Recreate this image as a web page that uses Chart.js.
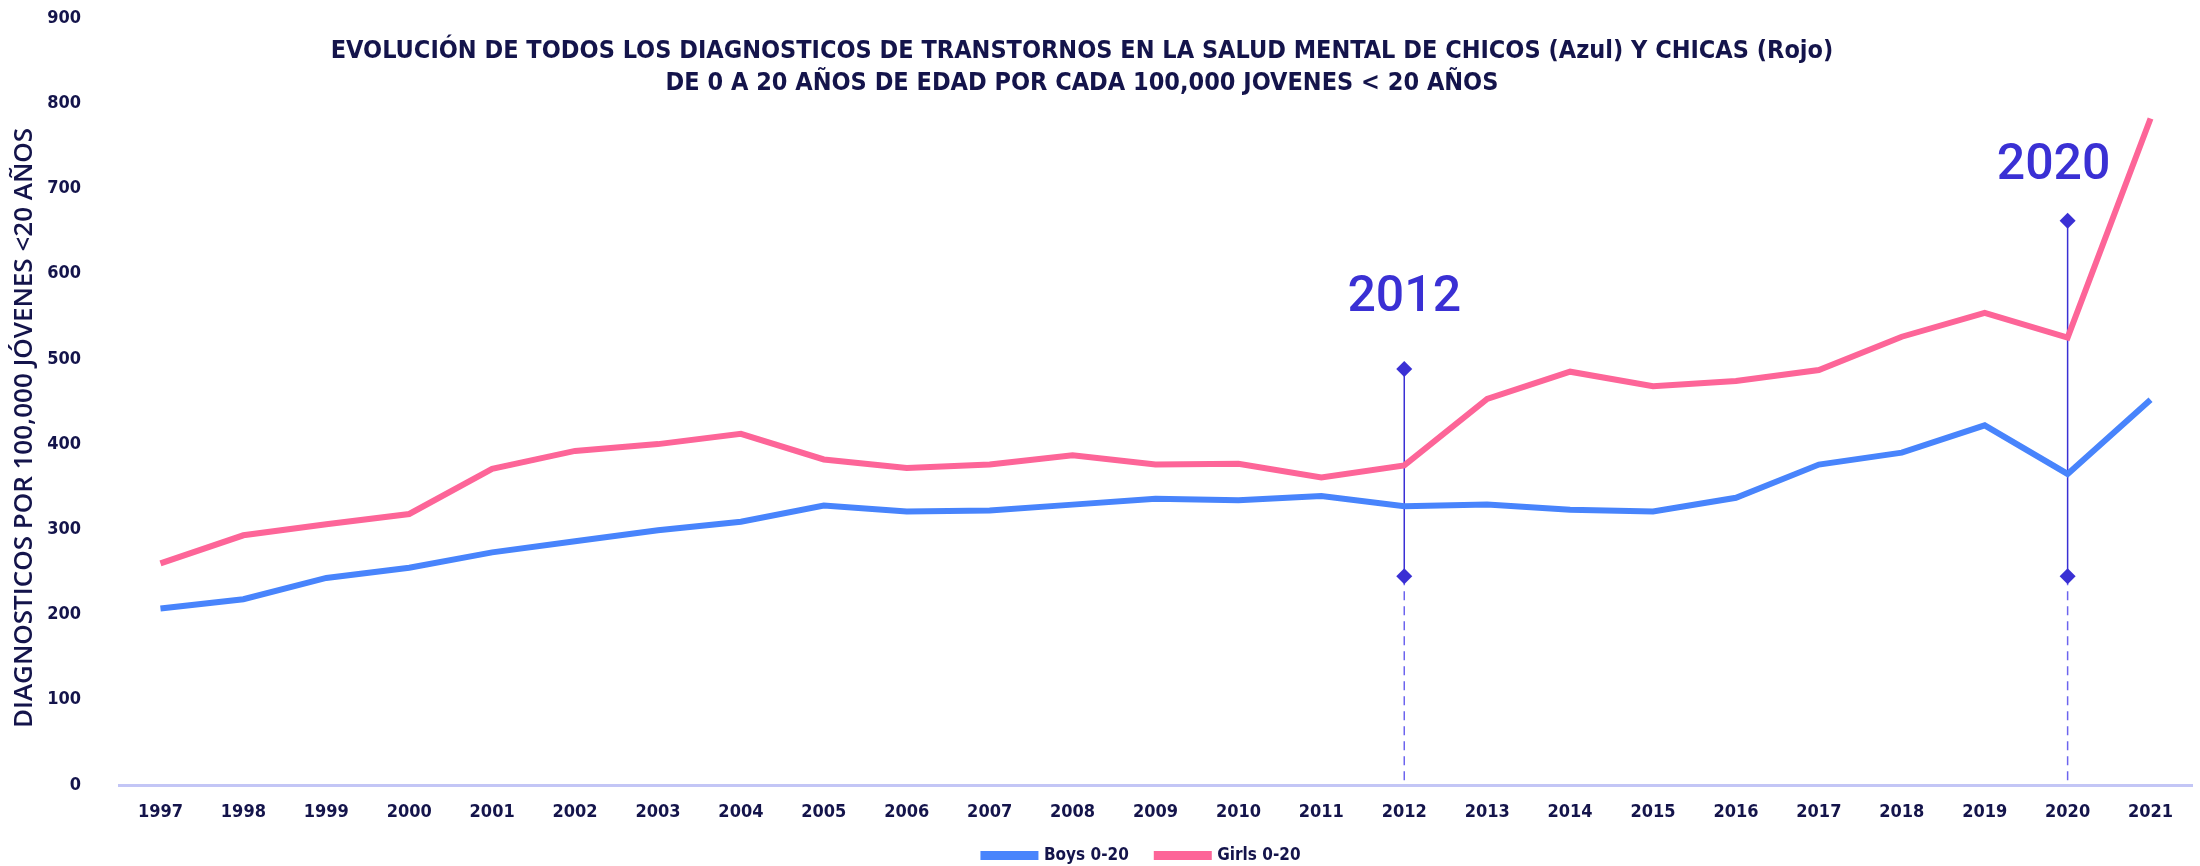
<html>
    <head>
        <title>Diagnosticos salud mental</title>
        <script src="https://cdn.jsdelivr.net/npm/chart.js"></script>
        <style>
            html, body {
                margin: 0;
                padding: 0;
                background: white;
            }
            #wrap {
                width: 2200px;
                height: 866px;
            }
        </style>
    </head>
    <body>
        <div id="wrap"><canvas id="chart"></canvas></div>
        <script>
            const years = ['1997','1998','1999','2000','2001','2002','2003','2004','2005','2006','2007','2008','2009',
                           '2010','2011','2012','2013','2014','2015','2016','2017','2018','2019','2020','2021'];
            const boys = [207, 218, 243, 255, 273, 286, 299, 309, 328, 321, 322, 329, 336,
                          334, 339, 327, 329, 323, 321, 337, 376, 390, 422, 365, 452];
            const girls = [260, 293, 306, 318, 371, 392, 400, 412, 382, 372, 376, 387, 376,
                           377, 361, 375, 453, 485, 468, 474, 487, 526, 554, 525, 782];
            const yTicks = [0, 100, 200, 300, 400, 500, 600, 700, 800, 900];
            const titleLines = ['EVOLUCIÓN DE TODOS LOS DIAGNOSTICOS DE TRANSTORNOS EN LA SALUD MENTAL DE CHICOS (Azul) Y CHICAS (Rojo)',
                                'DE 0 A 20 AÑOS DE EDAD POR CADA 100,000 JOVENES < 20 AÑOS'];
            const yTitle = 'DIAGNOSTICOS POR 100,000 JÓVENES <20 AÑOS';
            const markerYears = ['2012', '2020'];
            const markerTop = [488, 662];
            const markerBottom = [245, 245];
            const markerLabelY = [571, 726];

            const navy = '#14144b';
            const violet = '#3a30d4';
            const narrow = '"DejaVu Sans Condensed", "DejaVu Sans", sans-serif';

            const markerSets = [];
            markerYears.forEach(function(yr, i) {
                markerSets.push({
                    type: 'line',
                    label: 'marker ' + yr,
                    data: [{x: yr, y: markerTop[i]}, {x: yr, y: markerBottom[i]}],
                    borderColor: violet,
                    backgroundColor: violet,
                    borderWidth: 1.5,
                    pointStyle: 'rectRot',
                    pointRadius: 8,
                    pointBorderWidth: 0,
                });
                markerSets.push({
                    type: 'line',
                    label: 'dash ' + yr,
                    data: [{x: yr, y: markerBottom[i]}, {x: yr, y: 0}],
                    borderColor: '#6c64ee',
                    borderWidth: 1.5,
                    borderDash: [9, 6],
                    pointRadius: 0,
                });
            });

            // title, rotated y title and the 2012 / 2020 labels
            const overlay = {
                id: 'overlay',
                afterLayout(chart) {
                    // legend sits a bit right of the canvas centre
                    chart.legend.left += 41;
                    chart.legend.right += 41;
                },
                afterDraw(chart) {
                    const ctx = chart.ctx;
                    const x = chart.scales.x;
                    const y = chart.scales.y;
                    ctx.save();
                    ctx.fillStyle = navy;
                    ctx.textAlign = 'center';
                    ctx.textBaseline = 'middle';
                    ctx.font = 'bold 25px ' + narrow;
                    ctx.fillText(titleLines[0], 1082, 51);
                    ctx.fillText(titleLines[1], 1082, 83);

                    ctx.save();
                    ctx.translate(25, 428);
                    ctx.rotate(-Math.PI / 2);
                    ctx.font = '600 26px "Open Sans", sans-serif';
                    ctx.fillText(yTitle, 0, 0);
                    ctx.restore();

                    ctx.fillStyle = violet;
                    ctx.font = '500 50px Roboto, "Liberation Sans", sans-serif';
                    const shift = [0, -14];
                    markerYears.forEach(function(yr, i) {
                        ctx.fillText(yr, x.getPixelForValue(years.indexOf(yr)) + shift[i], y.getPixelForValue(markerLabelY[i]));
                    });
                    ctx.restore();
                }
            };

            const config = {
                type: 'line',
                data: {
                    labels: years,
                    datasets: [
                        {
                            label: 'Boys 0-20',
                            data: boys,
                            borderColor: '#4884fc',
                            backgroundColor: '#4884fc',
                            borderWidth: 6,
                            pointRadius: 0,
                        },
                        {
                            label: 'Girls 0-20',
                            data: girls,
                            borderColor: '#fd6598',
                            backgroundColor: '#fd6598',
                            borderWidth: 6,
                            pointRadius: 0,
                        }
                    ].concat(markerSets)
                },
                options: {
                    responsive: true,
                    maintainAspectRatio: false,
                    animation: false,
                    layout: {
                        padding: {top: 18, right: 6, left: 8, bottom: -8}
                    },
                    plugins: {
                        tooltip: {enabled: false},
                        legend: {
                            position: 'bottom',
                            labels: {
                                filter: item => item.datasetIndex < 2,
                                boxWidth: 52,
                                boxHeight: 3,
                                color: navy,
                                font: {family: narrow, size: 17, weight: 'bold'},
                                padding: 28,
                            }
                        }
                    },
                    scales: {
                        x: {
                            offset: true,
                            afterFit: axis => { axis.height = 34; },
                            grid: {display: false, drawTicks: false},
                            border: {color: '#c3c6f6', width: 3},
                            ticks: {
                                color: navy,
                                font: {family: narrow, size: 18, weight: 'bold'},
                                padding: 17,
                                maxRotation: 0,
                                autoSkip: false,
                            }
                        },
                        y: {
                            min: 0,
                            max: 900,
                            afterBuildTicks: axis => { axis.ticks = yTicks.map(v => ({value: v})); },
                            afterFit: axis => { axis.width = 111; },
                            grid: {display: false, drawTicks: true, tickLength: 36},
                            border: {display: false},
                            ticks: {
                                color: navy,
                                font: {family: narrow, size: 18, weight: 'bold'},
                                padding: 2,
                            }
                        }
                    }
                },
                plugins: [overlay]
            };

            const myChart = new Chart(document.getElementById('chart'), config);
        </script>
    </body>
</html>
